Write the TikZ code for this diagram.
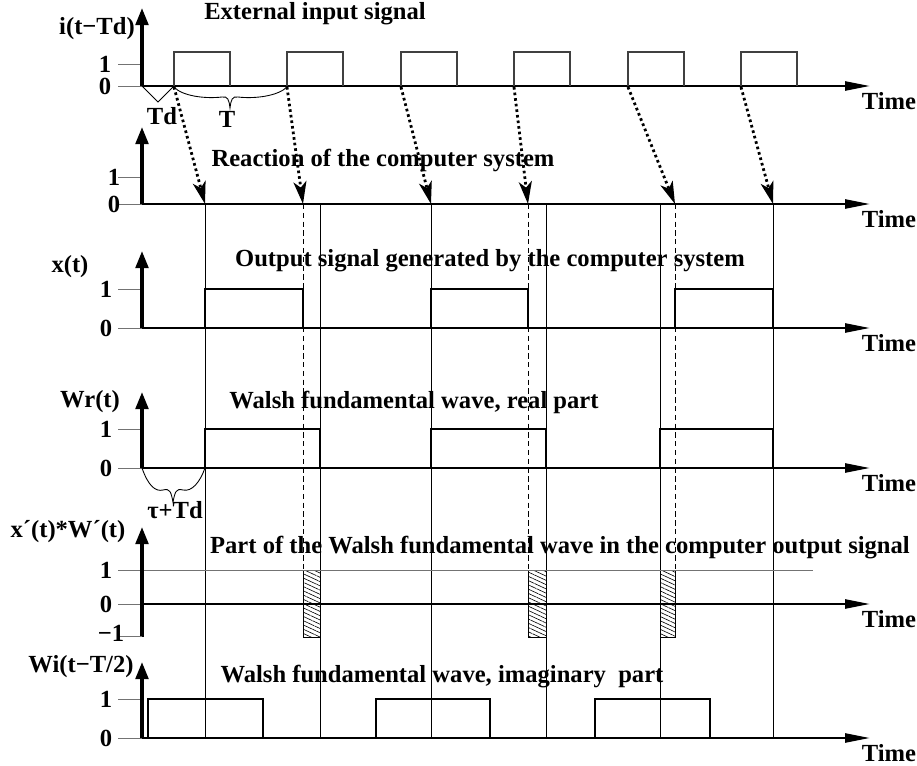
\documentclass[tikz,border=0pt]{standalone}
\usepackage{fontspec}
\setmainfont{Liberation Serif}
\usetikzlibrary{arrows.meta,patterns.meta}

\tikzset{
  yaxis/.style={line width=2pt,-{Triangle[length=0.34cm,width=0.25cm]}},
  timeaxis/.style={line width=1.4pt,-{Triangle[length=0.5cm,width=0.18cm]}},
  tickline/.style={line width=.5pt,black!55},
  inpulse/.style={line width=.6pt,black!75},
  pulse/.style={line width=1.6pt},
  guide/.style={line width=.5pt},
  guidedash/.style={line width=.5pt,dash pattern=on 3pt off 2pt},
  react/.style={line width=1.6pt,dash pattern=on 1.5pt off 1.7pt,
    -{Stealth[length=0.45cm,width=0.26cm,inset=0.12cm]}},
  hatchbox/.style={draw,line width=.4pt,fill=white,
    postaction={pattern={Lines[angle=-25,distance=2.2pt,line width=.35pt]}}},
  lbl/.style={inner sep=0pt},
}

\begin{document}
\begin{tikzpicture}[x=0.02cm,y=-0.02cm,font=\bfseries\fontsize{14}{16}\selectfont]
\useasboundingbox (0,0) rectangle (917,765);

% edges of the Walsh wave and of the output signal
\foreach \gx in {205,320,431,546,660,773}
  \draw[guide] (\gx,204) -- (\gx,738);
\foreach \gx in {303,528,675}
  \draw[guidedash] (\gx,204) -- (\gx,570);

% hatched parts
\foreach \ha/\hb in {303/320,528/546,660/675}
  \draw[hatchbox] (\ha,570) rectangle (\hb,637);
\draw[tickline] (118,570) -- (813,570);

% the six panels
\foreach \by/\oy/\ay/\ty/\lx [count=\p] in {86/64/86/8/105,204/177/204/127/114,
    328/289/328/251/106,468/429/468/392/106,604/570/637/527/106,738/699/738/662/106} {
  \draw[tickline] (118,\oy) -- (142,\oy);
  \draw[tickline] (118,\by) -- (142,\by);
  \draw[timeaxis] (142,\by) -- (870,\by);
  \draw[yaxis] (142,\ay) -- (142,\ty);
  \node[lbl] (one\p) at (\lx,\oy) {1};
  \node[lbl] (zero\p) at (\lx,\by) {0};
  \node[lbl] (time\p) at (889,\by+15) {Time};
}
\draw[tickline] (118,636) -- (142,636);
\node[lbl] (minusone) at (111,633) {−1};

% pulses
\foreach \r in {174,287,401,514,628,741}
  \draw[inpulse] (\r,86) -- (\r,52) -- (\r+56,52) -- (\r+56,86);
\foreach \a/\b in {205/303,431/528,675/773}
  \draw[pulse] (\a,328) -- (\a,289) -- (\b,289) -- (\b,328);
\foreach \a/\b in {205/320,431/546,660/773}
  \draw[pulse] (\a,468) -- (\a,429) -- (\b,429) -- (\b,468);
\foreach \a/\b in {148/263,376/490,595/710}
  \draw[pulse] (\a,738) -- (\a,699) -- (\b,699) -- (\b,738);

% reaction of the system
\foreach \s/\e [count=\k] in {174/205,287/303,401/431,514/528,628/675,741/773} {
  \coordinate (src\k) at (\s,87);
  \coordinate (dst\k) at (\e,204);
  \draw[react] (src\k) -- (dst\k);
}

% braces
\draw[guide] (142,86) -- (158,102) -- (174,86);
\draw[guide] (174,87) .. controls (182,96) and (205,99) .. (222,97) .. controls (228,96) and (229,100) .. (230,108)
  .. controls (231,100) and (232,96) .. (238,97) .. controls (255,99) and (278,96) .. (287,87);
\draw[guide] (142,468) .. controls (148,485) and (155,492) .. (163,490) .. controls (170,488) and (171,492) .. (173,502)
  .. controls (175,492) and (176,488) .. (183,490) .. controls (192,492) and (200,482) .. (205,468);
\node[lbl] (td) at (162,116) {Td};
\node[lbl] (per) at (227,119) {T};
\node[lbl] (delay) at (175,510) {τ+Td};

% titles
\node[lbl] (title1) at (315,14) {External input signal};
\node[lbl] (title2) at (383,160) {Reaction of the computer system};
\node[lbl] (title3) at (490,261) {Output signal generated by the computer system};
\node[lbl] (title4) at (414,402) {Walsh fundamental wave, real part};
\node[lbl] (title5) at (560,548) {Part of the Walsh fundamental wave in the computer output signal};
\node[lbl] (title6) at (442,677) {Walsh fundamental wave, imaginary\ \ part};

% axis names
\node[lbl] (ylab1) at (97,29) {i(t−Td)};
\node[lbl] (ylab3) at (70,267) {x(t)};
\node[lbl] (ylab4) at (90,402) {Wr(t)};
\node[lbl] (ylab5) at (68,532) {x´(t)*W´(t)};
\node[lbl] (ylab6) at (81,667) {Wi(t−T/2)};
\end{tikzpicture}
\end{document}
